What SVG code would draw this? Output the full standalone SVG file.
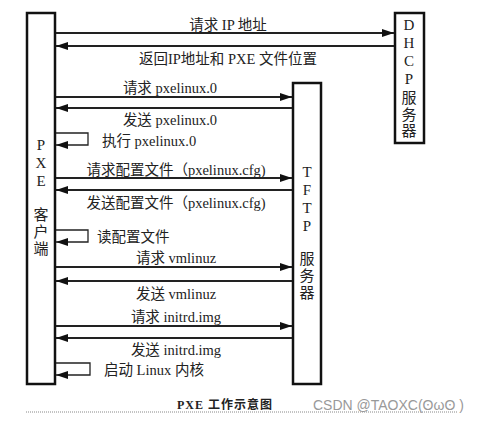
<svg xmlns="http://www.w3.org/2000/svg" width="481" height="424" viewBox="0 0 481 424">
<style>
.box{fill:#fff;stroke:#111;stroke-width:2.5}
.ln{fill:none;stroke:#222;stroke-width:2}
.lp{fill:none;stroke:#222;stroke-width:1.3}
text{font-family:"Liberation Serif","Noto Sans CJK SC",serif;font-size:14.5px;fill:#222}
.v{text-anchor:middle;font-size:15px}
.m{text-anchor:middle}
.cap{font-size:12px;font-weight:bold;text-anchor:middle;letter-spacing:1px}
.wm{font-family:"Liberation Sans","Noto Sans CJK SC",sans-serif;font-size:14px;fill:#999}
</style>
<defs>
<marker id="ah" viewBox="0 0 12 8" refX="12" refY="4" markerWidth="12" markerHeight="8" markerUnits="userSpaceOnUse" orient="auto">
<path d="M0,0 L12,4 L0,8 Z" fill="#111"/>
</marker>
</defs>
<rect width="481" height="424" fill="#fff"/>
<g id="pxe-client">
<rect class="box" x="27" y="13" width="28" height="371"/>
<text class="v" x="41" y="150">P</text>
<text class="v" x="41" y="168">X</text>
<text class="v" x="41" y="186">E</text>
<text class="v" x="41" y="220">客</text>
<text class="v" x="41" y="237">户</text>
<text class="v" x="41" y="254">端</text>
</g>
<g id="dhcp-server">
<rect class="box" x="395" y="13" width="29" height="130"/>
<text class="v" x="409" y="30">D</text>
<text class="v" x="409" y="48">H</text>
<text class="v" x="409" y="66">C</text>
<text class="v" x="409" y="84">P</text>
<text class="v" x="409" y="103">服</text>
<text class="v" x="409" y="120">务</text>
<text class="v" x="409" y="136">器</text>
</g>
<g id="tftp-server">
<rect class="box" x="293" y="83" width="28" height="301"/>
<text class="v" x="307" y="177">T</text>
<text class="v" x="307" y="195">F</text>
<text class="v" x="307" y="213">T</text>
<text class="v" x="307" y="231">P</text>
<text class="v" x="307" y="264">服</text>
<text class="v" x="307" y="281">务</text>
<text class="v" x="307" y="298">器</text>
</g>
<g id="connectors">
<line class="ln" x1="56" y1="33" x2="394" y2="33" marker-end="url(#ah)"/>
<line class="ln" x1="394" y1="46" x2="56" y2="46" marker-end="url(#ah)"/>
<line class="ln" x1="56" y1="97" x2="292" y2="97" marker-end="url(#ah)"/>
<line class="ln" x1="292" y1="108" x2="56" y2="108" marker-end="url(#ah)"/>
<polyline class="lp" points="56,133 88,133 88,145 56,145" marker-end="url(#ah)"/>
<line class="ln" x1="56" y1="178" x2="292" y2="178" marker-end="url(#ah)"/>
<line class="ln" x1="292" y1="190" x2="56" y2="190" marker-end="url(#ah)"/>
<polyline class="lp" points="56,230 88,230 88,242 56,242" marker-end="url(#ah)"/>
<line class="ln" x1="56" y1="267" x2="292" y2="267" marker-end="url(#ah)"/>
<line class="ln" x1="292" y1="281" x2="56" y2="281" marker-end="url(#ah)"/>
<line class="ln" x1="56" y1="326" x2="292" y2="326" marker-end="url(#ah)"/>
<line class="ln" x1="292" y1="338" x2="56" y2="338" marker-end="url(#ah)"/>
<polyline class="lp" points="56,363 90,363 90,375 56,375" marker-end="url(#ah)"/>
</g>
<g id="labels">
<text class="m" x="228" y="30">请求 IP 地址</text>
<text class="m" x="228" y="64">返回IP地址和 PXE 文件位置</text>
<text class="m" x="170" y="93">请求 pxelinux.0</text>
<text class="m" x="170" y="125">发送 pxelinux.0</text>
<text x="102" y="146">执行 pxelinux.0</text>
<text class="m" x="176" y="175">请求配置文件（pxelinux.cfg)</text>
<text class="m" x="176" y="208">发送配置文件（pxelinux.cfg)</text>
<text x="97" y="242">读配置文件</text>
<text class="m" x="176" y="263">请求 vmlinuz</text>
<text class="m" x="176" y="299">发送 vmlinuz</text>
<text class="m" x="176" y="322">请求 initrd.img</text>
<text class="m" x="176" y="355">发送  initrd.img</text>
<text x="104" y="375">启动 Linux 内核</text>
</g>
<text class="cap" x="225" y="409">PXE 工作示意图</text>
<line x1="26" y1="412" x2="458" y2="412" stroke="#888" stroke-width="1" stroke-dasharray="1,1"/>
<text class="wm" x="313" y="410">CSDN @TAOXC(ʘωʘ )</text>
</svg>
